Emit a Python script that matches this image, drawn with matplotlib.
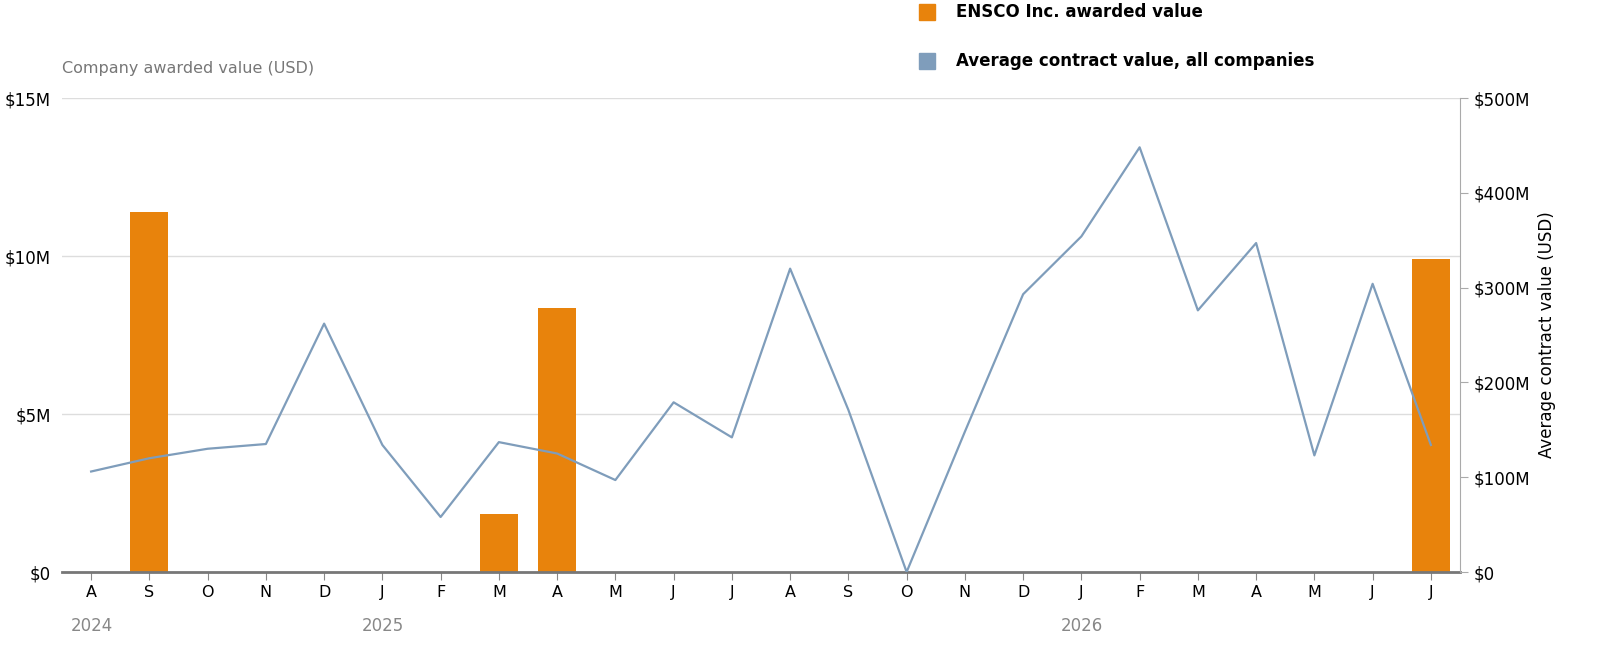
import matplotlib
matplotlib.use("Agg")
import matplotlib.pyplot as plt
import numpy as np

months = ["A","S","O","N","D","J","F","M","A","M","J","J","A","S","O","N","D","J","F","M","A","M","J","J"]
company_val = [0,11.4,0,0,0,0,0,1.85,8.35,0,0,0,0,0,0,0,0,0,0,0,0,0,0,9.9]  # $M
avg_val = [106,120,130,135,262,134,58,137,125,97,179,142,320,171,0,148,293,354,448,276,347,123,304,134]  # $M
years = [(0,"2024"),(5,"2025"),(17,"2026")]

W,H = 1606,656
fig = plt.figure(figsize=(W/100,H/100), dpi=100)
ax = fig.add_axes([62/W, 1-572/H, (1460-62)/W, (572-98)/H])
x = np.arange(len(months))
ax.bar(x, company_val, width=0.65, color="#E8830C", zorder=2)
ax.set_xlim(-0.5, 23.5)
ax.set_ylim(0, 15)
ax.set_yticks([0,5,10,15])
ax.set_yticklabels(["$0","$5M","$10M","$15M"], fontsize=12)
ax.set_xticks(x)
ax.set_xticklabels(months, fontsize=11.5)
ax.tick_params(axis="y", length=0, pad=8)
ax.tick_params(axis="x", length=6, color="#888888")
ax.grid(axis="y", color="#dddddd", lw=1, zorder=0)
for s in ["top","right","left"]:
    ax.spines[s].set_visible(False)
ax.spines["bottom"].set_color("#777777"); ax.spines["bottom"].set_linewidth(2)
for i,yr in years:
    ax.text(i-0.35, -0.095, yr, transform=ax.get_xaxis_transform(), ha="left", va="top", fontsize=12, color="#888888")
fig.text(62/W, 1-69/H, "Company awarded value (USD)", fontsize=11.5, color="#777777", va="center")

ax2 = ax.twinx()
ax2.plot(x, avg_val, color="#7F9DBB", lw=1.6, zorder=3)
ax2.set_ylim(0, 500)
ax2.set_yticks([0,100,200,300,400,500])
ax2.set_yticklabels(["$0","$100M","$200M","$300M","$400M","$500M"], fontsize=12)
ax2.tick_params(axis="y", length=6, color="#aaaaaa")
for s in ["top","left","bottom"]:
    ax2.spines[s].set_visible(False)
ax2.spines["right"].set_color("#aaaaaa")
ax2.set_ylabel("Average contract value (USD)", fontsize=12, labelpad=6)

fig.patches.append(matplotlib.patches.Rectangle((919/W,1-20/H),16/W,16/H,transform=fig.transFigure,color="#E8830C"))
fig.patches.append(matplotlib.patches.Rectangle((919/W,1-69/H),16/W,16/H,transform=fig.transFigure,color="#7F9DBB"))
fig.text(956/W, 1-12/H, "ENSCO Inc. awarded value", fontsize=12, fontweight="bold", va="center")
fig.text(956/W, 1-61/H, "Average contract value, all companies", fontsize=12, fontweight="bold", va="center")
fig.savefig("out.png", dpi=100)
